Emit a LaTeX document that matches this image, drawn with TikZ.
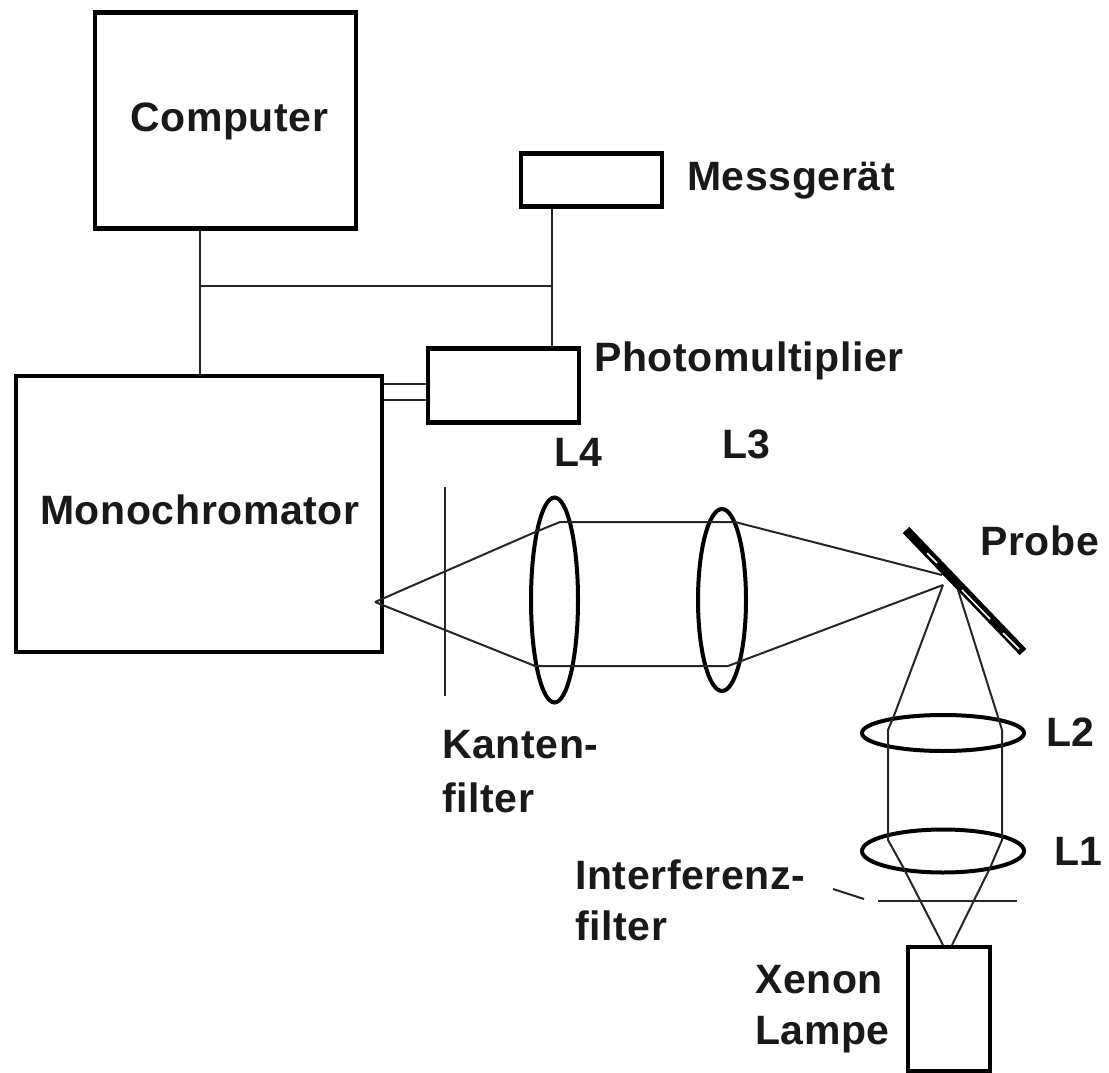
\documentclass[tikz,border=0pt]{standalone}
\usepackage{fontspec}
\setmainfont{Liberation Sans}[LetterSpace=1.5]
\usetikzlibrary{shapes.geometric}
\tikzset{
 x=1pt,y=-1pt,
 box/.style={draw=black,line width=4.5pt,minimum width=0pt,inner sep=0pt,rectangle},
 wire/.style={draw=black!85,line width=2pt},
 lens/.style={draw=black,line width=4pt,ellipse,inner sep=0pt,fill=none},
 lbl/.style={font=\fontsize{41}{49}\selectfont\bfseries,text=black!90,inner sep=0pt,anchor=west,align=left},
}
\begin{document}
\begin{tikzpicture}
\useasboundingbox (0,0) rectangle (1109,1073);
\fill[white] (0,0) rectangle (1109,1073);
% boxes
\node[box,minimum width=261pt,minimum height=216pt] (comp) at (225.5,120.5) {};
\node[box,minimum width=141pt,minimum height=53pt] (mess) at (591.5,180) {};
\node[box,minimum width=151pt,minimum height=74pt] (pm) at (503.5,385.5) {};
\node[box,minimum width=366pt,minimum height=276pt] (mono) at (199,514) {};
\node[box,minimum width=82pt,minimum height=124pt] (lamp) at (949,1009) {};
% lenses
\node[lens,minimum width=47pt,minimum height=205pt] (l4) at (554.5,600) {};
\node[lens,minimum width=48pt,minimum height=182pt] (l3) at (722,600) {};
\node[lens,minimum width=162pt,minimum height=36pt] (l2) at (943,733) {};
\node[lens,minimum width=162pt,minimum height=43pt] (l1) at (943,851) {};
% wiring
\coordinate (j1) at (200,286);
\coordinate (j2) at (552,286);
\draw[wire] (comp.south -| j1) -- (mono.north -| j1);
\draw[wire] (j1) -- (j2);
\draw[wire] (mess.south -| j2) -- (pm.north -| j2);
\draw[wire] (mono.east |- 0,384) -- (pm.west |- 0,384);
\draw[wire] (mono.east |- 0,400) -- (pm.west |- 0,400);
% filters
\coordinate (kt) at (445,487); \coordinate (kb) at (445,696);
\draw[wire] (kt) -- (kb);
\coordinate (it) at (878,901); \coordinate (ib) at (1017,901);
\draw[wire] (it) -- (ib);
\coordinate (il) at (833,889); \coordinate (ir) at (864,899);
\draw[wire] (il) -- (ir);
% sample
\coordinate (pa) at (906,530); \coordinate (pb) at (1023,652);
\draw[black,line width=9pt] (pa) -- (pb);
\draw[white,line width=1.5pt] (927,553) -- (937,563) (962,590) -- (990,619) (1003,633) -- (1019,649);
% rays
\coordinate (f) at (375,602);
\coordinate (s1) at (942,575); \coordinate (s2) at (943,585); \coordinate (s3) at (958,590);
\coordinate (x) at (943,945); \coordinate (y) at (952,945);
\draw[wire] (f) -- (533,533) -- (560,522) -- (735,522) -- (s1);
\draw[wire] (f) -- (535,666) -- (728,666) -- (s2);
\draw[wire] (s2) -- (895,713) -- (888,730) -- (888,840) -- (903,867) -- (x);
\draw[wire] (s3) -- (998,717) -- (1002,730) -- (1002,840) -- (990,868) -- (y);
% labels
\node[lbl] (t1) at (130,121) {Computer};
\node[lbl] (t2) at (687,181) {Messgerät};
\node[lbl] (t3) at (594,361) {Photomultiplier};
\node[lbl] (t4) at (40,510) {Monochromator};
\node[lbl] (t5) at (554,452) {L4};
\node[lbl] (t6) at (722,444) {L3};
\node[lbl] (t7) at (980,541) {Probe};
\node[lbl] (t8) at (1046,732) {L2};
\node[lbl] (t9) at (1054,851) {L1};
\node[lbl] (t10) at (442,745) {Kanten-};
\node[lbl] (t11) at (442,798) {filter};
\node[lbl] (t12) at (575,875) {Interferenz-};
\node[lbl] (t13) at (575,926) {filter};
\node[lbl] (t14) at (755,980) {Xenon};
\node[lbl] (t15) at (755,1035) {Lampe};
\end{tikzpicture}
\end{document}
